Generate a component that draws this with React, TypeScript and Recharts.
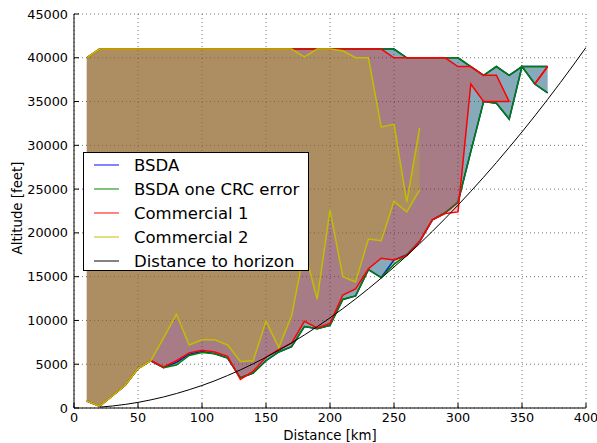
import React from "react";
import { ComposedChart, Area, Line, XAxis, YAxis, CartesianGrid, Label } from "recharts";

// distance grid (km), shared by every series
const distanceKm = [
  10, 20, 30, 40, 50, 60, 70, 80, 90, 100, 110, 120, 130, 140, 150, 160, 170, 180, 190, 200,
  210, 220, 230, 240, 250, 260, 270, 280, 290, 300, 310, 320, 330, 340, 350, 360, 370, 380, 390, 400,
];

// BSDA: lowest / highest altitude received (feet)
const bsdaLow = [
  800, 200, 1400, 2600, 4500, 5400, 4600, 5200, 6150, 6450, 6200, 5700, 3450, 4000, 5400, 6400, 7000,
  9300, 9050, 9450, 12400, 12800, 15800, 14900, 16900, 17500, 19000, 21500, 22300, 23500, 29300,
  35000, 34800, 33000, 39000, 37000, 36000,
];
const bsdaHigh = [
  40000, 41000, 41000, 41000, 41000, 41000, 41000, 41000, 41000, 41000, 41000, 41000, 41000, 41000,
  41000, 41000, 41000, 41000, 41000, 41000, 41000, 41000, 41000, 41000, 41000, 40000, 40000, 40000,
  40000, 40000, 39000, 38000, 39000, 38000, 39000, 39000, 39000,
];

// BSDA one CRC error
const crcLow = [
  800, 200, 1400, 2600, 4500, 5400, 4600, 4900, 6000, 6350, 6200, 5700, 3450, 4000, 5400, 6400, 7000,
  9300, 9050, 9450, 12400, 12800, 15800, 14900, 16400, 17500, 19000, 21500, 22300, 23500, 29300,
  35000, 34800, 33000, 39000, 37000, 36000,
];
const crcHigh = bsdaHigh;

// Commercial 1 (no reception at 350 km)
const com1Low = [
  800, 200, 1400, 2600, 4500, 5400, 4700, 5400, 6300, 6600, 6400, 5900, 3250, 4200, 5800, 6700, 7400,
  9900, 9150, 9650, 12900, 13600, 15900, 17100, 16900, 17400, 19000, 21500, 22200, 22400, 37000,
  35000, 35000, 35000, null, 37000, 39000,
];
const com1High = [
  40000, 41000, 41000, 41000, 41000, 41000, 41000, 41000, 41000, 41000, 41000, 41000, 41000, 41000,
  41000, 41000, 41000, 41000, 41000, 41000, 41000, 41000, 41000, 41000, 40000, 40000, 40000, 40000,
  40000, 39000, 39000, 38000, 38000, 35000, null, 37000, 39000,
];

// Commercial 2
const com2Low = [
  800, 200, 1400, 2600, 4500, 5400, 8000, 10700, 7200, 7800, 7800, 7200, 5300, 5400, 9900, 6900, 10500,
  18000, 12400, 22600, 15000, 14400, 19300, 19100, 23600, 22400, 24900,
];
const com2High = [
  40000, 41000, 41000, 41000, 41000, 41000, 41000, 41000, 41000, 41000, 41000, 41000, 41000, 41000,
  41000, 41000, 41000, 40100, 41000, 41000, 40800, 40000, 40000, 32100, 32400, 23500, 32000,
];

// distance to horizon, from 20 km on
const horizonAlt = [
  null, 100, 230, 410, 640, 930, 1260, 1650, 2090, 2570, 3110, 3710, 4350, 5050, 5790, 6590, 7440,
  8340, 9290, 10300, 11350, 12460, 13620, 14830, 16090, 17400, 18760, 20180, 21650, 23170, 24740,
  26360, 28030, 29760, 31530, 33360, 35240, 37170, 39150, 41180,
];

const xTicks = [0, 50, 100, 150, 200, 250, 300, 350, 400];
const yTicks = [0, 5000, 10000, 15000, 20000, 25000, 30000, 35000, 40000, 45000];

const legendItems = [
  { name: "BSDA", color: "#0000ff" },
  { name: "BSDA one CRC error", color: "#008000" },
  { name: "Commercial 1", color: "#ff0000" },
  { name: "Commercial 2", color: "#bfbf00" },
  { name: "Distance to horizon", color: "#000000" },
];

const pair = (lo: (number | null)[], hi: (number | null)[], i: number) =>
  lo[i] == null || hi[i] == null ? null : [lo[i], hi[i]];

const rows = distanceKm.map((d, i) => ({
  d,
  bsda: pair(bsdaLow, bsdaHigh, i),
  crc: pair(crcLow, crcHigh, i),
  com1: pair(com1Low, com1High, i),
  com2: pair(com2Low, com2High, i),
  horizon: horizonAlt[i],
}));

const FONT = "DejaVu Sans, sans-serif";
const W = 597;
const H = 443;
const M = { top: 14, right: 11, bottom: 0, left: 14 };

const tickStyle = { fill: "#000", fontSize: 12.8, fontFamily: FONT };

const YTitle = () => (
  <text
    x={17}
    y={208}
    transform="rotate(-90 17 208)"
    textAnchor="middle"
    dominantBaseline="central"
    fontSize={13.3}
    fontFamily={FONT}
    fill="#000"
  >
    Altitude [feet]
  </text>
);

const XTitle = () => (
  <text x={330} y={435} textAnchor="middle" dominantBaseline="central" fontSize={13.3} fontFamily={FONT} fill="#000">
    Distance [km]
  </text>
);

function LegendBox() {
  return (
    <div
      style={{
        position: "absolute",
        left: 83,
        top: 152,
        width: 224,
        height: 117,
        background: "#fff",
        border: "1px solid #000",
        fontFamily: FONT,
        fontSize: 16.5,
      }}
    >
      {legendItems.map((it, i) => (
        <div
          key={it.name}
          style={{ position: "absolute", left: 0, top: 1 + i * 24, height: 22, display: "flex", alignItems: "center" }}
        >
          <svg width={50} height={22} style={{ display: "block" }}>
            <line x1={10} x2={35} y1={11} y2={11} stroke={it.color} strokeOpacity={0.65} strokeWidth={1.5} />
          </svg>
          <span style={{ color: "#000", whiteSpace: "nowrap" }}>{it.name}</span>
        </div>
      ))}
    </div>
  );
}

const areaProps = {
  type: "linear" as const,
  fillOpacity: 0.27,
  strokeWidth: 1.5,
  dot: false,
  activeDot: false,
  isAnimationActive: false,
};

export default function App() {
  return (
    <div style={{ position: "absolute", left: 0, top: 0, width: W, height: H, background: "#fff" }}>
      <ComposedChart width={W} height={H} data={rows} margin={M}>
        <CartesianGrid stroke="#000" strokeOpacity={0.55} strokeDasharray="1 3" />
        <XAxis
          dataKey="d"
          type="number"
          domain={[0, 400]}
          ticks={xTicks}
          allowDataOverflow
          height={35}
          tick={tickStyle}
          tickSize={-5}
          tickMargin={10}
          stroke="#000"
        >
          <Label content={<XTitle />} />
        </XAxis>
        <XAxis xAxisId="top" orientation="top" dataKey="d" type="number" domain={[0, 400]} ticks={xTicks} height={0} tick={false} tickSize={-5} stroke="#000" />
        <YAxis
          type="number"
          domain={[0, 45000]}
          ticks={yTicks}
          allowDataOverflow
          width={60}
          tick={tickStyle}
          tickSize={-5}
          tickMargin={11}
          stroke="#000"
        >
          <Label content={<YTitle />} />
        </YAxis>
        <YAxis yAxisId="right" orientation="right" type="number" domain={[0, 45000]} ticks={yTicks} width={0} tick={false} tickSize={-5} stroke="#000" />
        <Area dataKey="bsda" stroke="#0000ff" fill="#0000ff" {...areaProps} />
        <Area dataKey="crc" stroke="#008000" fill="#008000" {...areaProps} />
        <Area dataKey="com1" stroke="#ff0000" fill="#ff0000" {...areaProps} />
        <Area dataKey="com2" stroke="#bfbf00" fill="#bfbf00" {...areaProps} />
        <Line
          dataKey="horizon"
          type="linear"
          stroke="#000"
          strokeWidth={1}
          dot={false}
          activeDot={false}
          connectNulls
          isAnimationActive={false}
        />
      </ComposedChart>
      <LegendBox />
    </div>
  );
}
